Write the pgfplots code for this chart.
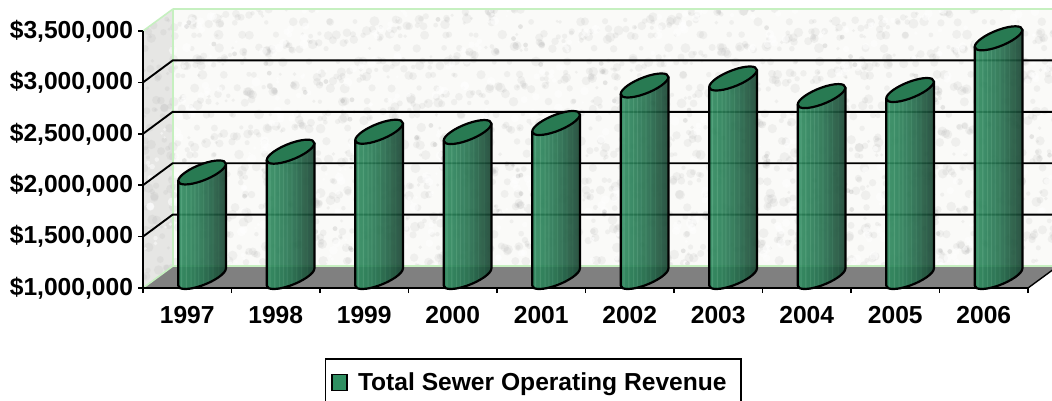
\documentclass[border=0pt]{standalone}
\usepackage{pgfplots}
\usepackage{pgfplotstable}
\pgfplotsset{compat=1.18}
\usepackage{fontspec}
\setmainfont{Liberation Sans}
\definecolor{wallgreen}{HTML}{C6F0C0}
\definecolor{floorgray}{HTML}{808080}
\definecolor{wallbase}{HTML}{FAFAF8}
\definecolor{lidgreen}{HTML}{287A52}
\definecolor{swatchgreen}{HTML}{2F8F62}
\pgfdeclarehorizontalshading{cyl}{100bp}{
 rgb(0bp)=(.17,.55,.37);
 rgb(25bp)=(.17,.55,.37);
 rgb(27bp)=(.20,.60,.41);
 rgb(28bp)=(.30,.66,.49);
 rgb(29bp)=(.20,.58,.40);
 rgb(32bp)=(.19,.57,.39);
 rgb(33bp)=(.30,.65,.48);
 rgb(34bp)=(.19,.56,.39);
 rgb(37bp)=(.18,.55,.38);
 rgb(38bp)=(.27,.62,.45);
 rgb(39bp)=(.18,.54,.37);
 rgb(41bp)=(.18,.53,.37);
 rgb(42bp)=(.26,.60,.44);
 rgb(43bp)=(.18,.52,.36);
 rgb(45bp)=(.17,.51,.36);
 rgb(46bp)=(.24,.57,.42);
 rgb(47bp)=(.17,.50,.35);
 rgb(50bp)=(.17,.49,.34);
 rgb(51bp)=(.22,.54,.39);
 rgb(52bp)=(.16,.47,.33);
 rgb(55bp)=(.16,.45,.32);
 rgb(56bp)=(.20,.50,.36);
 rgb(57bp)=(.15,.43,.31);
 rgb(60bp)=(.14,.41,.29);
 rgb(61bp)=(.18,.45,.33);
 rgb(62bp)=(.14,.39,.28);
 rgb(66bp)=(.13,.36,.26);
 rgb(67bp)=(.15,.39,.28);
 rgb(68bp)=(.12,.34,.25);
 rgb(75bp)=(.11,.29,.21);
 rgb(100bp)=(.11,.29,.21)}
\pgfplotstableread{
x rev
0.5 2017000
1.5 2219000
2.5 2413000
3.5 2410000
4.5 2498000
5.5 2863000
6.5 2931000
7.5 2760000
8.5 2819000
9.5 3322000
}\revtable
\begin{document}
\begin{tikzpicture}[x=1pt,y=1pt]
\clip (0,0) rectangle (1052,400);
\path[use as bounding box] (0,0) rectangle (1052,400);
% walls and floor, in image pixels (y measured from the top)
\begin{scope}[yshift=400pt,y=-1pt]
\fill[white] (0,0) rectangle (1052,400);
\fill[wallbase] (173,9) rectangle (1060,266);
\fill[wallbase!92!black] (143,31) -- (173,9) -- (173,266) -- (143,288) -- cycle;
\begin{scope}
\clip (143,31) -- (173,9) -- (1060,9) -- (1060,266) -- (173,266) -- (143,288) -- cycle;
\foreach \i in {1,...,2300}{
  \pgfmathsetmacro\px{143+917*mod(\i*0.7548777+0.02*sin(\i*5),1)}
  \pgfmathsetmacro\py{9+279*mod(\i*0.5698403+0.03*sin(\i*3),1)}
  \pgfmathsetmacro\pr{1.5+3.5*mod(\i*0.3141593,1)}
  \fill[black!35,opacity=.13] (\px,\py) circle (\pr);
}
\foreach \i in {1,...,700}{
  \pgfmathsetmacro\px{143+917*mod(\i*0.6180340+0.02*sin(\i*7),1)}
  \pgfmathsetmacro\py{9+279*mod(\i*0.8191725+0.03*sin(\i*9),1)}
  \pgfmathsetmacro\pr{1.2+3.4*mod(\i*0.2207440,1)}
  \fill[white,opacity=.5] (\px,\py) circle (\pr);
}
\foreach \i in {1,...,90}{
  \pgfmathsetmacro\px{143+917*mod(\i*0.5497677+0.02*sin(\i*17),1)}
  \pgfmathsetmacro\py{9+279*mod(\i*0.3247179+0.03*sin(\i*23),1)}
  \fill[black!55,opacity=.16] (\px,\py) circle (2.4);
}
\end{scope}
\fill[floorgray] (143,288) -- (1028,288) -- (1058,266) -- (173,266) -- cycle;
\draw[wallgreen,line width=1.6pt,line join=round] (143,288) -- (173,266) -- (173,9) -- (143,31);
\draw[wallgreen,line width=1.6pt] (173,9) -- (1060,9);
\draw[wallgreen,line width=1.6pt] (173,266) -- (1060,266);
\draw[black,line width=1.4pt] (1028,288) -- (1058,266);
\end{scope}
\begin{axis}[
  at={(143pt,112pt)},anchor=south west,
  scale only axis,width=885pt,height=257pt,
  xmin=0,xmax=10,ymin=1000000,ymax=3500000,
  clip=false,
  axis lines*=left,
  axis line style={line width=1.9pt,black,-},
  tick style={line width=1.6pt,black},
  major tick length=5pt,
  tick align=outside,
  xtick={0,...,10},
  x tick label as interval,
  xticklabels={1997,1998,1999,2000,2001,2002,2003,2004,2005,2006},
  x tick label style={yshift=-10pt},
  ytick={1000000,1500000,2000000,2500000,3000000,3500000},
  scaled y ticks=false,
  yticklabel={\$\pgfmathprintnumber{\tick}},
  /pgf/number format/.cd,fixed,1000 sep={,},assume math mode=true,/pgfplots/.cd,
  ticklabel style={font=\fontsize{24.6}{28}\bfseries},
  y tick label style={xshift=-1.5pt},
  legend style={
    at={(0.2051,-0.2724)},anchor=north west,
    draw=black,line width=1.8pt,fill=white,
    font=\fontsize{24.6}{28}\bfseries,
    inner xsep=6pt,inner ysep=12pt,
    /tikz/every odd column/.append style={column sep=8pt},
  },
  legend image code/.code={
    \fill[swatchgreen,draw=black,line width=1.6pt] (0pt,-8pt) rectangle (15pt,8pt);
  },
]
% gridlines: front edge, then back wall
\addplot[black,line width=1.9pt,forget plot] coordinates {(0,1500000) (0.3356,1714000) (10.4,1714000)};
\addplot[black,line width=1.9pt,forget plot] coordinates {(0,2000000) (0.3356,2214000) (10.4,2214000)};
\addplot[black,line width=1.9pt,forget plot] coordinates {(0,2500000) (0.3356,2714000) (10.4,2714000)};
\addplot[black,line width=1.9pt,forget plot] coordinates {(0,3000000) (0.3356,3214000) (10.4,3214000)};
% the cylinders: each mark is drawn from the data point, its height from the value
\addplot[
  scatter,only marks,mark=none,
  scatter src=y,point meta min=1000000,point meta max=3500000,
  scatter/@pre marker code/.code={%
    \pgfmathsetmacro\cylh{\pgfplotspointmetatransformed*0.257}%
    \def\cylbody{(-9.05pt,2.5pt) -- (-9.05pt,2.5pt-\cylh pt)
      .. controls (-9.05pt,-2.19pt-\cylh pt) and (1.63pt,-2.19pt-\cylh pt) .. (14.8pt,2.5pt-\cylh pt)
      .. controls (27.97pt,7.19pt-\cylh pt) and (38.65pt,14.81pt-\cylh pt) .. (38.65pt,19.5pt-\cylh pt)
      -- (38.65pt,19.5pt)}%
    \shade[shading=cyl,opacity=.9] \cylbody
      .. controls (38.65pt,24.19pt) and (27.97pt,24.19pt) .. (14.8pt,19.5pt)
      .. controls (1.63pt,14.81pt) and (-9.05pt,7.19pt) .. (-9.05pt,2.5pt) -- cycle;
    \fill[black,opacity=.07] \cylbody
      .. controls (38.65pt,24.19pt) and (27.97pt,24.19pt) .. (14.8pt,19.5pt)
      .. controls (1.63pt,14.81pt) and (-9.05pt,7.19pt) .. (-9.05pt,2.5pt) -- cycle;
    \draw[black,line width=2.2pt,line join=round] \cylbody;
    \draw[black,line width=2.2pt,fill=lidgreen] (-9.05pt,2.5pt)
      .. controls (-9.05pt,7.19pt) and (1.63pt,14.81pt) .. (14.8pt,19.5pt)
      .. controls (27.97pt,24.19pt) and (38.65pt,24.19pt) .. (38.65pt,19.5pt)
      .. controls (38.65pt,14.81pt) and (27.97pt,7.19pt) .. (14.8pt,2.5pt)
      .. controls (1.63pt,-2.19pt) and (-9.05pt,-2.19pt) .. (-9.05pt,2.5pt) -- cycle;
  },
  scatter/@post marker code/.code={},
] table[x=x,y=rev] {\revtable};
\addlegendentry{Total Sewer Operating Revenue\hspace{6pt}\null}
\end{axis}
\end{tikzpicture}
\end{document}
